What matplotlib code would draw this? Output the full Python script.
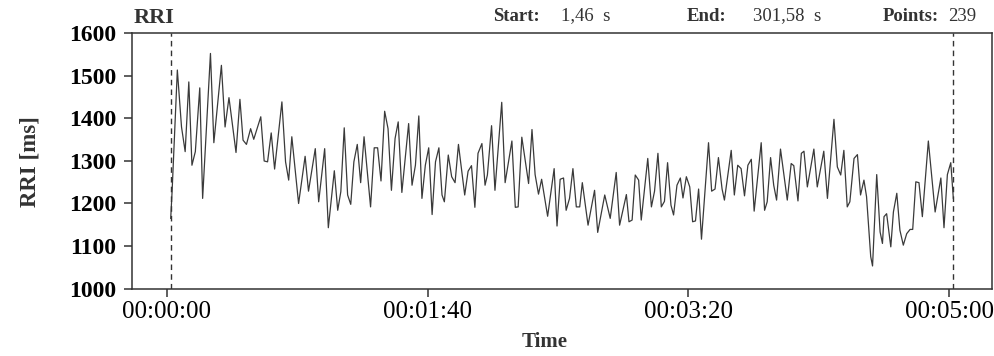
import matplotlib
matplotlib.use("Agg")
import matplotlib.pyplot as plt
from matplotlib.ticker import FuncFormatter

# -------------
# Data
# -------------
start_s = 1.46
end_s = 301.58
n_points = 239

time_s = [
    1.46, 2.0, 4.0, 5.6, 7.0, 8.4, 9.6, 10.9, 12.6, 13.7, 16.7, 18.0, 20.9, 22.3, 23.8,
    26.5, 28.0, 29.2, 30.5, 32.1, 33.3, 36.0, 37.3, 38.6, 40.0, 41.3, 44.1, 45.5, 46.7,
    47.9, 50.5, 53.0, 54.3, 56.9, 58.2, 60.5, 61.9, 64.2, 65.5, 66.7, 68.0, 69.3, 70.5,
    71.7, 73.0, 74.3, 75.6, 78.1, 79.5, 80.8, 82.1, 83.5, 84.8, 86.1, 87.5, 88.7, 90.1,
    92.7, 94.0, 95.3, 96.6, 97.8, 99.1, 100.4, 101.7, 103.0, 104.3, 105.5, 106.4, 107.9,
    109.2, 110.5, 111.8, 114.2, 115.5, 116.8, 118.1, 119.3, 120.8, 122.0, 122.9, 124.5,
    125.8, 128.4, 129.7, 132.3, 133.6, 134.7, 136.1, 138.7, 140.0, 141.2, 142.5, 143.7,
    146.0, 148.5, 149.6, 150.8, 152.1, 153.1, 154.4, 155.7, 157.0, 158.3, 159.3, 161.5,
    164.0, 165.2, 167.9, 170.0, 172.3, 173.6, 176.2, 177.2, 178.4, 179.6, 180.9, 181.9,
    184.4, 185.8, 187.0, 188.3, 189.6, 190.8, 192.0, 193.3, 194.3, 195.6, 196.9, 197.9,
    199.2, 200.5, 201.6, 202.7, 203.9, 205.0, 207.7, 208.9, 210.2, 211.5, 212.9, 213.8,
    216.4, 217.6, 218.9, 220.2, 221.5, 222.8, 224.1, 225.2, 227.9, 229.2, 230.2, 231.5,
    232.7, 233.8, 235.3, 236.6, 237.9, 239.4, 240.4, 242.0, 243.3, 244.3, 245.6, 248.1,
    249.4, 251.9, 253.3, 255.8, 257.1, 258.4, 259.6, 260.9, 261.9, 263.5, 264.8, 266.0,
    267.3, 268.3, 269.9, 270.6, 272.2, 273.5, 274.4, 275.0, 276.0, 277.6, 278.6, 279.9,
    281.1, 282.4, 283.7, 285.0, 286.0, 287.2, 288.4, 289.7, 292.0, 294.6, 296.8, 298.0,
    299.3, 300.6, 301.58,
]

rri_ms = [
    1165, 1230, 1514, 1380, 1322, 1486, 1290, 1322, 1472, 1212, 1553, 1343, 1525, 1380, 1449,
    1320, 1445, 1349, 1339, 1376, 1351, 1404, 1300, 1298, 1366, 1281, 1439, 1298, 1255,
    1357, 1200, 1311, 1229, 1329, 1204, 1329, 1143, 1277, 1184, 1228, 1378, 1220, 1198,
    1298, 1339, 1249, 1357, 1192, 1331, 1331, 1253, 1417, 1376, 1231, 1353, 1392, 1226,
    1388, 1243, 1290, 1406, 1212, 1290, 1331, 1174, 1298, 1331, 1220, 1204, 1314,
    1263, 1249, 1339, 1220, 1276, 1289, 1191, 1318, 1341, 1243, 1267, 1383,
    1231, 1438, 1249, 1347, 1191, 1192, 1356, 1247, 1374, 1268, 1222, 1257,
    1170, 1282, 1147, 1257, 1260, 1184, 1212, 1282, 1192, 1192, 1249, 1149,
    1231, 1132, 1220, 1165, 1273, 1149, 1221, 1157, 1161, 1267, 1255, 1161,
    1306, 1192, 1229, 1318, 1192, 1205, 1296, 1196, 1173, 1243, 1260, 1213,
    1263, 1239, 1157, 1159, 1234, 1116, 1343, 1229, 1234, 1308, 1234, 1208,
    1325, 1220, 1290, 1282, 1218, 1290, 1304, 1182, 1343, 1184, 1204, 1308,
    1243, 1208, 1328, 1267, 1208, 1294, 1289, 1206, 1318, 1323, 1239, 1328,
    1239, 1323, 1212, 1398, 1286, 1267, 1325, 1192, 1204, 1306, 1315, 1220,
    1255, 1216, 1075, 1053, 1268, 1133, 1106, 1169, 1176, 1098, 1180, 1224,
    1137, 1102, 1129, 1139, 1139, 1251, 1249, 1169, 1347, 1180, 1260, 1143,
    1268, 1296, 1212,
]

x_ticks = [0, 100, 200, 300]
y_ticks = [1000, 1100, 1200, 1300, 1400, 1500, 1600]


def hms(v, pos=None):
    v = int(round(v))
    return "%02d:%02d:%02d" % (v // 3600, (v % 3600) // 60, v % 60)


# -------------
# Drawing plot
# -------------
plt.rcParams["font.family"] = ["Liberation Serif", "DejaVu Serif"]

fig = plt.figure(figsize=(9.94, 3.56), dpi=100)
ax = fig.add_axes([0.1325, 0.1896, 0.8652, 0.7164])

ax.plot(time_s, rri_ms, color="#3a3a3a", linewidth=0.9)
ax.axvline(start_s, color="#333333", linewidth=1.0, linestyle=(0, (4, 3)))
ax.axvline(end_s, color="#333333", linewidth=1.0, linestyle=(0, (4, 3)))

ax.set_xlim(-13.5, 316.3)
ax.set_ylim(1000, 1600)
ax.set_xticks(x_ticks)
ax.xaxis.set_major_formatter(FuncFormatter(hms))
ax.set_yticks(y_ticks)

for s in ax.spines.values():
    s.set_linewidth(1.1)
    s.set_color("#333333")
ax.tick_params(axis="both", direction="out", length=6, width=1.1, color="#333333")
ax.tick_params(axis="x", labelsize=18, pad=3)
ax.tick_params(axis="y", labelsize=17, pad=5)
for lbl in ax.get_yticklabels():
    lbl.set_fontweight("bold")

fig.text(0.134, 0.949, "RRI", fontsize=16, fontweight="bold", va="center", ha="left",
         color="#333333")
fig.text(30 / 994, 0.545, "RRI [ms]", rotation=90, fontsize=16.5, fontweight="bold",
         va="center", ha="center", color="#333333")
fig.text(0.548, 0.040, "Time", fontsize=15, fontweight="bold", va="center", ha="center",
         color="#333333")

# header
hy = 0.955
fig.text(493 / 994, hy, "Start:", fontsize=13.5, fontweight="bold", va="center",
         color="#333333")
fig.text(561 / 994, hy, "1,46  s", fontsize=13.5, va="center", color="#333333")
fig.text(687 / 994, hy, "End:", fontsize=13.5, fontweight="bold", va="center",
         color="#333333")
fig.text(753 / 994, hy, "301,58  s", fontsize=13.5, va="center", color="#333333")
fig.text(883 / 994, hy, "Points:", fontsize=13.5, fontweight="bold", va="center",
         color="#333333")
fig.text(948 / 994, hy, str(n_points), fontsize=13.5, va="center", color="#333333")

fig.savefig("out.png", dpi=100)
